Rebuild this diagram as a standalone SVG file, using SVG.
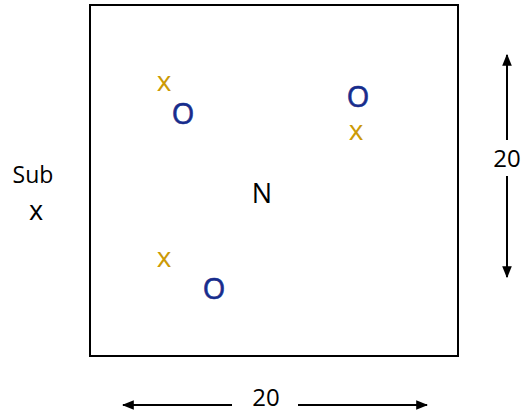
<svg xmlns="http://www.w3.org/2000/svg" width="522" height="414" viewBox="0 0 522 414">
<style>
text{font-family:"Open Sans","DejaVu Sans",sans-serif;text-anchor:middle}
.g{fill:#CC9A06;font-size:28px}
.b{fill:#172C8C;font-size:29px;stroke:#172C8C;stroke-width:0.6}
.k{fill:#000;font-size:23px}
.ln{stroke:#000;stroke-width:2;fill:none}
</style>
<defs>
<marker id="ah" viewBox="0 0 10 10" refX="9" refY="5" markerWidth="6" markerHeight="6" orient="auto-start-reverse" markerUnits="strokeWidth">
<path d="M0,1 L10,5 L0,9 z" fill="#000"/>
</marker>
</defs>
<g id="box"><rect x="90" y="5" width="368" height="351" fill="#fff" stroke="#000" stroke-width="2"/></g>
<g id="sub"><text class="k" x="33" y="183">Sub</text><text class="k" x="36" y="220" style="font-size:27px">x</text></g>
<g id="x1"><text class="g" x="164" y="91">x</text></g>
<g id="o1"><text class="b" x="183" y="124">O</text></g>
<g id="o2"><text class="b" x="358" y="107">O</text></g>
<g id="x2"><text class="g" x="356" y="140">x</text></g>
<g id="n"><text class="k" x="262" y="203" style="font-size:27px">N</text></g>
<g id="x3"><text class="g" x="164" y="267">x</text></g>
<g id="o3"><text class="b" x="214" y="299">O</text></g>
<g id="dims">
<text class="k" x="266" y="406" style="font-size:24px">20</text>
<text class="k" x="507" y="167" style="font-size:24px">20</text>
</g>
<g id="connectors">
<line class="ln" x1="232" y1="405" x2="123" y2="405" marker-end="url(#ah)"/>
<line class="ln" x1="298" y1="405" x2="427" y2="405" marker-end="url(#ah)"/>
<line class="ln" x1="507" y1="140" x2="507" y2="55" marker-end="url(#ah)"/>
<line class="ln" x1="507" y1="176" x2="507" y2="277" marker-end="url(#ah)"/>
</g>
</svg>
